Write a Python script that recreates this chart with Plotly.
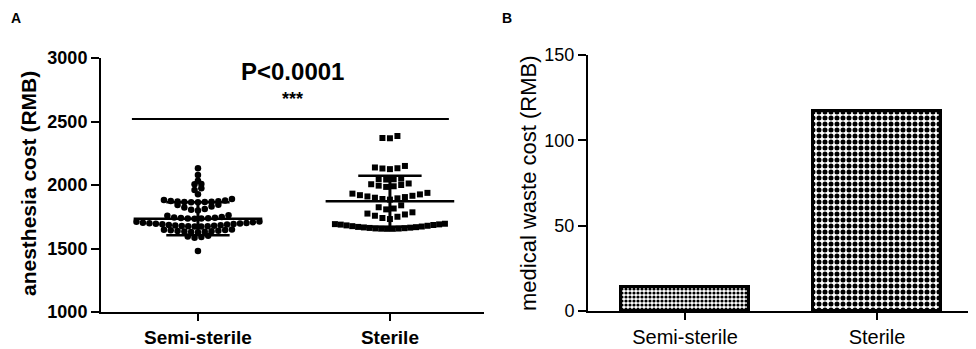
import plotly.graph_objects as go

# ---------------- data ----------------
groups = ["Semi-sterile", "Sterile"]

semi_sterile_cost = [
    2132, 2079, 2034, 2008, 2005, 1974, 1961, 1927,
    1890, 1882, 1878, 1875, 1872, 1870, 1868, 1867, 1866, 1865, 1865,
    1845, 1842, 1830, 1822, 1812, 1805, 1800,
    1762, 1758, 1748, 1745, 1742, 1740, 1738, 1737, 1736, 1735,
    1712, 1710, 1706, 1703, 1700, 1698, 1696, 1694, 1692, 1690,
    1688, 1686, 1684, 1682, 1680, 1678, 1676, 1675, 1674, 1673,
    1650, 1648, 1645, 1643, 1640, 1638, 1636, 1634, 1632, 1630, 1628,
    1600, 1595, 1590, 1585,
    1480,
]
sterile_cost = [
    2386, 2370, 2368,
    2150, 2138, 2132, 2130, 2125,
    2050, 2047, 2045, 2043,
    2012, 2006, 2000, 1995, 1990, 1985,
    1938, 1932, 1926, 1920, 1915, 1910, 1905, 1900, 1895, 1890, 1885,
    1840, 1825, 1815, 1808,
    1785, 1775, 1768, 1758, 1750, 1740, 1732,
    1695, 1692, 1690, 1688, 1685, 1682, 1679, 1676, 1673, 1670,
    1668, 1666, 1664, 1662, 1660, 1658, 1657, 1656, 1655, 1655,
]
cost_mean = [1735, 1872]
cost_sd = [130, 200]

waste_cost = [14, 117]

p_text = "P<0.0001"
stars = "***"

# ---------------- layout constants ----------------
# the page places the figure 8px in from the window's top-left corner
OFF = 8
W, H = 976 - OFF, 349 - OFF


def PX(x):
    return (x - OFF) / W


def PY(y):
    return 1 - (y - OFF) / H


xdomA = [PX(101), PX(484)]
ydomA = [PY(312), PY(58)]
xdomB = [PX(588), PX(973)]
ydomB = [PY(311), PY(55)]
xrangeA = [-0.505, 1.49]
xrangeB = [-0.505, 1.5]
px_per_unit = W * (xdomA[1] - xdomA[0]) / (xrangeA[1] - xrangeA[0])


def swarm(values, center, spacing_px, max_width_px, gap=18):
    vals = sorted(values, reverse=True)
    rows = []
    for v in vals:
        if rows and rows[-1][-1] - v <= gap:
            rows[-1].append(v)
        else:
            rows.append([v])
    xs, ys = [], []
    for row in rows:
        n = len(row)
        sp = spacing_px if n < 2 else min(spacing_px, max_width_px / (n - 1))
        asc = sorted(row)
        slots = sorted([i - (n - 1) / 2 for i in range(n)], key=lambda s: (abs(s), s))
        for v, s in zip(asc, slots):
            xs.append(center + s * sp / px_per_unit)
            ys.append(v)
    return xs, ys


fig = go.Figure()

# Panel A: scatter dot plots
sx, sy = swarm(semi_sterile_cost, 0, 6.8, 123)
fig.add_trace(go.Scatter(x=sx, y=sy, mode="markers", xaxis="x", yaxis="y",
                         marker=dict(symbol="circle", size=6.5, color="black",
                                     line=dict(width=0)),
                         showlegend=False, hoverinfo="y"))
tx, ty = swarm(sterile_cost, 1, 7.5, 110)
fig.add_trace(go.Scatter(x=tx, y=ty, mode="markers", xaxis="x", yaxis="y",
                         marker=dict(symbol="square", size=6, color="black",
                                     line=dict(width=0)),
                         showlegend=False, hoverinfo="y"))

# mean and SD
mean_half = 0.335
cap_half = 0.165
for i, (m, sd) in enumerate(zip(cost_mean, cost_sd)):
    fig.add_trace(go.Scatter(x=[i - mean_half, i + mean_half], y=[m, m], mode="lines",
                             xaxis="x", yaxis="y", line=dict(color="black", width=2.5),
                             showlegend=False, hoverinfo="skip"))
    fig.add_trace(go.Scatter(x=[i - cap_half, i + cap_half, None, i - cap_half, i + cap_half],
                             y=[m + sd, m + sd, None, m - sd, m - sd], mode="lines",
                             xaxis="x", yaxis="y", line=dict(color="black", width=2.5),
                             showlegend=False, hoverinfo="skip"))
    fig.add_trace(go.Scatter(x=[i, i], y=[m - sd, m + sd], mode="lines",
                             xaxis="x", yaxis="y", line=dict(color="black", width=3),
                             showlegend=False, hoverinfo="skip"))

# Panel B: bars
patterns = [dict(shape=".", size=4, solidity=0.5, fgcolor="black", bgcolor="white"),
            dict(shape=".", size=6, solidity=0.55, fgcolor="black", bgcolor="white")]
for i, v in enumerate(waste_cost):
    fig.add_trace(go.Bar(x=[i], y=[v], width=0.67, xaxis="x2", yaxis="y2",
                         marker=dict(color="white", pattern=patterns[i],
                                     line=dict(color="black", width=3)),
                         showlegend=False, hoverinfo="y"))

FAM = "Liberation Sans, Arial, sans-serif"
bold = dict(family=FAM, size=18, color="black", weight="bold")
norm = dict(family=FAM, size=18, color="black")

axis_common = dict(showgrid=False, zeroline=False, showline=True, linecolor="black",
                   linewidth=2, ticks="outside", tickcolor="black", tickwidth=2,
                   fixedrange=True, automargin=False)

fig.update_layout(
    template="none",
    width=W, height=H,
    margin=dict(l=0, r=0, t=0, b=0, pad=0),
    paper_bgcolor="white", plot_bgcolor="white",
    bargap=0,
    xaxis=dict(domain=xdomA, range=xrangeA, tickvals=[0, 1], ticktext=groups,
               ticklen=7, tickfont=dict(bold, size=19), anchor="y", **axis_common),
    yaxis=dict(domain=ydomA, range=[1000, 3000], tickvals=[1000, 1500, 2000, 2500, 3000],
               ticklen=8, tickfont=bold, anchor="x", **axis_common),
    xaxis2=dict(domain=xdomB, range=xrangeB, tickvals=[0, 1], ticktext=groups,
                ticklen=7, tickfont=dict(norm, size=20), anchor="y2", **axis_common),
    yaxis2=dict(domain=ydomB, range=[0, 150], tickvals=[0, 50, 100, 150],
                ticklen=8, tickfont=norm, anchor="x2", **axis_common),
    shapes=[dict(type="line", xref="x", yref="y", x0=-0.344, x1=1.307, y0=2520, y1=2520,
                 line=dict(color="black", width=2))],
    annotations=[
        dict(text=p_text, xref="x", yref="y", x=0.495, y=2890, showarrow=False,
             xanchor="center", yanchor="middle",
             font=dict(family=FAM, size=24, color="black", weight="bold")),
        dict(text=stars, xref="x", yref="y", x=0.495, y=2680, showarrow=False,
             xanchor="center", yanchor="middle",
             font=dict(family=FAM, size=18, color="black", weight="bold")),
        dict(text="anesthesia cost (RMB)", xref="paper", yref="paper", x=PX(28),
             y=PY(184), textangle=-90, showarrow=False, xanchor="center",
             yanchor="middle", font=dict(bold, size=21)),
        dict(text="medical waste cost (RMB)", xref="paper", yref="paper", x=PX(528),
             y=PY(183), textangle=-90, showarrow=False, xanchor="center",
             yanchor="middle", font=dict(norm, size=22)),
        dict(text="A", xref="paper", yref="paper", x=PX(16), y=1,
             showarrow=False, xanchor="center", yanchor="top",
             font=dict(bold, size=14)),
        dict(text="B", xref="paper", yref="paper", x=PX(507), y=1,
             showarrow=False, xanchor="center", yanchor="top",
             font=dict(bold, size=14)),
    ],
)

fig.write_html("out.html")
